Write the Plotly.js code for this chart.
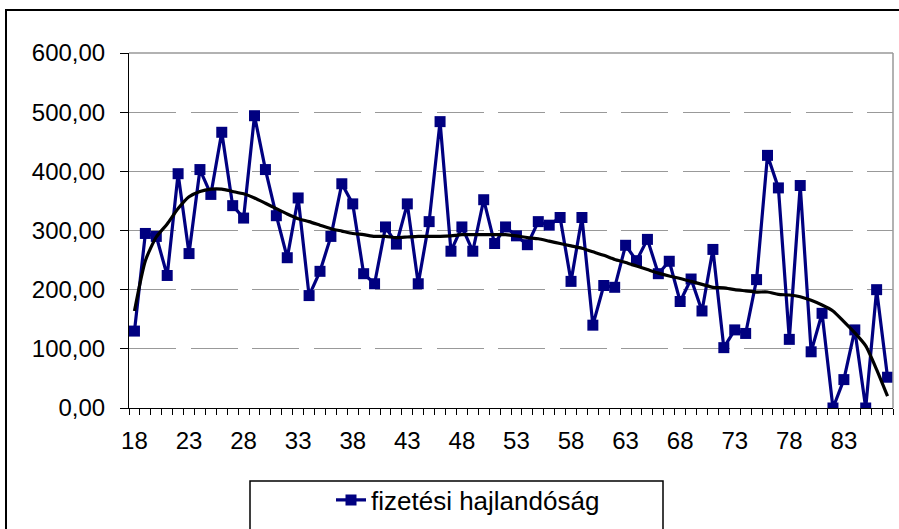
<!DOCTYPE html>
<html>
<head>
<meta charset="utf-8">
<script src="https://cdn.plot.ly/plotly-3.0.1.min.js"></script>
<style>
html, body { margin: 0; padding: 0; background: #ffffff; }
#chart { width: 899px; height: 529px; }
</style>
</head>
<body>
<div id="chart"></div>
<script>
// Ages (category axis)
const ages = [18,19,20,21,22,23,24,25,26,27,28,29,30,31,32,33,34,35,36,37,
              38,39,40,41,42,43,44,45,46,47,48,49,50,51,52,53,54,55,56,57,
              58,59,60,61,62,63,64,65,66,67,68,69,70,71,72,73,74,75,76,77,
              78,79,80,81,82,83,84,85,86,87];

// fizetési hajlandóság (willingness to pay)
const values = [130,295,290,224,396,261,403,361,466,342,321,494,403,325,254,355,190,231,290,379,
                345,227,210,306,277,345,210,315,484,265,306,265,352,278,306,291,276,315,309,322,
                214,322,140,207,204,275,249,285,227,248,180,218,164,268,102,132,126,217,427,372,
                116,376,95,160,0,48,132,0,200,52];

// Trend line
const trend = [164,249,289,311,337,357,366,370,370,366,362,355,346,337,328,320,315,309,303,299,
               295,293,290,290,288,289,290,290,290,291,293,293,293,293,293,291,288,286,282,278,
               274,270,264,258,251,246,240,234,228,223,219,214,209,204,203,200,198,196,196,192,
               191,188,182,174,164,146,127,105,65,20];

const xTickVals = [18,23,28,33,38,43,48,53,58,63,68,73,78,83];
const yTickVals = [0,100,200,300,400,500,600];
const seriesName = "fizetési hajlandóság";

const FONT = "Liberation Sans, Arial, sans-serif";

const traces = [
  {
    x: ages, y: values, type: "scatter", mode: "lines+markers",
    name: seriesName,
    line: { color: "#000080", width: 3.2 },
    marker: { symbol: "square", size: 11, color: "#000080" },
    hoverinfo: "skip"
  },
  {
    x: ages, y: trend, type: "scatter", mode: "lines",
    name: "trend", showlegend: false,
    line: { color: "#000000", width: 3.2, shape: "spline", smoothing: 0.6 },
    hoverinfo: "skip"
  }
];

const W = 899, H = 529, ML = 129, MR = 6, MT = 53, MB = 121;
const PW = W - ML - MR, PH = H - MT - MB;
const px = v => (v - ML) / PW;
const py = v => (H - MB - v) / PH;

const layout = {
  width: W, height: H,
  margin: { l: ML, r: MR, t: MT, b: MB, pad: 0 },
  paper_bgcolor: "#ffffff",
  plot_bgcolor: "#ffffff",
  separators: ", ",
  font: { family: FONT, color: "#000000", size: 24 },
  showlegend: true,
  legend: {
    x: px(331), xanchor: "left",
    y: py(500), yanchor: "middle",
    bgcolor: "rgba(0,0,0,0)", borderwidth: 0,
    font: { family: FONT, size: 26, color: "#000000" }
  },
  xaxis: {
    type: "linear",
    range: [17.5, 87.5],
    tickmode: "array", tickvals: xTickVals,
    ticks: "", showgrid: false, zeroline: false,
    showline: true, linecolor: "#000000", linewidth: 1,
    tickfont: { family: FONT, size: 24, color: "#000000" },
    ticklabelstandoff: 11,
    minor: { tick0: 17.5, dtick: 1, ticks: "outside", ticklen: 6, tickcolor: "#000000", tickwidth: 1, showgrid: false }
  },
  yaxis: {
    range: [0, 600],
    tickmode: "array", tickvals: yTickVals,
    tickformat: ".2f",
    ticks: "outside", ticklen: 8, tickcolor: "#000000", tickwidth: 1,
    showline: true, linecolor: "#000000", linewidth: 1,
    showgrid: true, gridcolor: "#999999", gridwidth: 1, griddash: "47px,14.5px",
    zeroline: false,
    tickfont: { family: FONT, size: 24, color: "#000000" },
    ticklabelstandoff: 10
  },
  shapes: [
    // plot area border (top & right, grey)
    { type: "line", xref: "paper", yref: "paper", x0: 0, x1: 1, y0: 1, y1: 1, line: { color: "#999999", width: 1.5 } },
    { type: "line", xref: "paper", yref: "paper", x0: 1, x1: 1, y0: 0, y1: 1, line: { color: "#999999", width: 1.5 } },
    // outer chart border
    { type: "rect", xref: "paper", yref: "paper", x0: px(6), x1: px(910), y0: py(545), y1: py(10), line: { color: "#000000", width: 2 }, fillcolor: "rgba(0,0,0,0)" },
    // legend box
    { type: "rect", xref: "paper", yref: "paper", x0: px(250), x1: px(663), y0: py(540), y1: py(481), line: { color: "#000000", width: 1.5 }, fillcolor: "rgba(0,0,0,0)" }
  ]
};

Plotly.newPlot("chart", traces, layout, { displayModeBar: false, staticPlot: true });
</script>
</body>
</html>
